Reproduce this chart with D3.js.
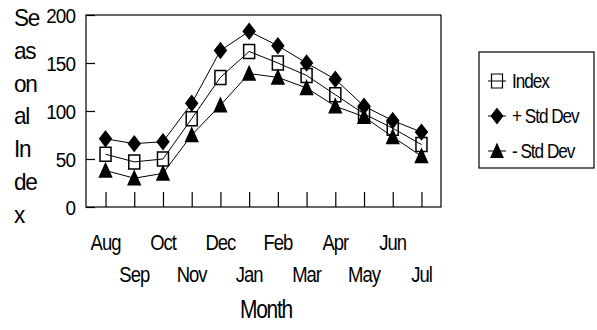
<!DOCTYPE html>
<html>
<head>
<meta charset="utf-8">
<script src="https://cdn.jsdelivr.net/npm/d3@7/dist/d3.min.js"></script>
<style>
  html, body { margin: 0; padding: 0; background: #fff; }
  svg { display: block; }
  text { font-family: "Liberation Sans", Arial, sans-serif; fill: #000; }
</style>
</head>
<body>
<svg id="chart" width="597" height="330"></svg>
<script>
// Monthly seasonal index with +/- one standard deviation bands
const months = ["Aug", "Sep", "Oct", "Nov", "Dec", "Jan", "Feb", "Mar", "Apr", "May", "Jun", "Jul"];
const indexValues = [55, 47, 50, 92, 135, 162, 150, 137, 117, 97, 82, 65];
const plusStdDev = [71, 66, 68, 108, 163, 183, 168, 150, 133, 105, 90, 78];
const minusStdDev = [38, 30, 35, 75, 106, 139, 135, 124, 105, 94, 73, 53];
const yTicks = [0, 50, 100, 150, 200];
const seriesNames = ["Index", "+ Std Dev", "- Std Dev"];
const yTitleLines = ["Se", "as", "on", "al", "In", "de", "x"];
const xTitle = "Month";

const svg = d3.select("#chart");
const plot = { left: 86, right: 441, top: 15, bottom: 207 };

const x = d3.scalePoint().domain(months).range([plot.left, plot.right]).padding(0.68);
const y = d3.scaleLinear().domain([0, 200]).range([plot.bottom, plot.top]);

// narrow text: horizontally condensed glyphs
function condensed(sel, size, sx, anchor) {
  return sel
    .attr("text-anchor", anchor)
    .style("font-size", size + "px")
    .attr("transform", function () {
      const t = d3.select(this);
      return `translate(${t.attr("x")},${t.attr("y")}) scale(${sx},1)`;
    })
    .attr("x", 0).attr("y", 0);
}

// plot frame
svg.append("rect")
  .attr("x", plot.left).attr("y", plot.top)
  .attr("width", plot.right - plot.left).attr("height", plot.bottom - plot.top)
  .attr("fill", "none").attr("stroke", "#000").attr("stroke-width", 1.2);

// y axis: inward ticks, labels to the left
const yAxis = svg.append("g")
  .attr("transform", `translate(${plot.left},0)`)
  .call(d3.axisLeft(y).tickValues(yTicks).tickSize(-9).tickFormat(""));
yAxis.select(".domain").remove();
yAxis.selectAll("line").attr("stroke", "#000").attr("stroke-width", 1.2);

svg.append("g").selectAll("text")
  .data(yTicks)
  .join("text")
  .attr("x", 75)
  .attr("y", d => y(d) + 7.5)
  .style("letter-spacing", "-1px")
  .text(d => d)
  .call(condensed, 21, 0.9, "end");

// x axis: inward ticks, labels staggered over two rows
const xAxis = svg.append("g")
  .attr("transform", `translate(0,${plot.bottom})`)
  .call(d3.axisBottom(x).tickSize(-15).tickFormat(""));
xAxis.select(".domain").remove();
xAxis.selectAll("line").attr("stroke", "#000").attr("stroke-width", 1.2);

svg.append("g").selectAll("text")
  .data(months)
  .join("text")
  .attr("x", d => x(d))
  .attr("y", (d, i) => i % 2 === 0 ? 250 : 282)
  .style("letter-spacing", "-1.2px")
  .text(d => d)
  .call(condensed, 22, 0.84, "middle");

// axis titles
svg.append("text")
  .attr("x", 266).attr("y", 318)
  .style("letter-spacing", "-1.5px")
  .text(xTitle)
  .call(condensed, 25, 0.84, "middle");

svg.append("g").selectAll("text")
  .data(yTitleLines)
  .join("text")
  .attr("x", 14)
  .attr("y", (d, i) => 26 + i * 32.8)
  .style("letter-spacing", "-1.4px")
  .text(d => d)
  .call(condensed, 23, 0.98, "start");

// marker shapes
const diamond = "M0,-7.5L5.8,0L0,7.5L-5.8,0Z";
const triangle = "M0,-7L6,6.5L-6,6.5Z";
const square = "M-5.5,-7H5.5V7H-5.5Z";

const series = [
  { name: seriesNames[0], values: indexValues, path: square, fill: "none" },
  { name: seriesNames[1], values: plusStdDev, path: diamond, fill: "#000" },
  { name: seriesNames[2], values: minusStdDev, path: triangle, fill: "#000" }
];

const line = d3.line().x((d, i) => x(months[i])).y(d => y(d));

series.forEach(s => {
  svg.append("path")
    .datum(s.values)
    .attr("d", line)
    .attr("fill", "none").attr("stroke", "#000").attr("stroke-width", 1);
});

series.forEach(s => {
  svg.append("g").selectAll("path")
    .data(s.values)
    .join("path")
    .attr("transform", (d, i) => `translate(${x(months[i])},${y(d)})`)
    .attr("d", s.path)
    .attr("fill", s.fill)
    .attr("stroke", "#000").attr("stroke-width", 1.5);
});

// legend
const legend = svg.append("g");
legend.append("rect")
  .attr("x", 479).attr("y", 52).attr("width", 115).attr("height", 116)
  .attr("fill", "#fff").attr("stroke", "#000").attr("stroke-width", 1.2);

series.forEach((s, i) => {
  const cy = 81 + i * 35;
  legend.append("line")
    .attr("x1", 488).attr("x2", 506).attr("y1", cy).attr("y2", cy)
    .attr("stroke", "#000").attr("stroke-width", 1);
  legend.append("path")
    .attr("transform", `translate(497,${cy})`)
    .attr("d", s.path).attr("fill", s.fill)
    .attr("stroke", "#000").attr("stroke-width", 1.2);
  legend.append("text")
    .attr("x", 512).attr("y", cy + 7)
    .style("letter-spacing", "-1.2px")
    .text(s.name)
    .call(condensed, 20, 0.86, "start");
});
</script>
</body>
</html>
